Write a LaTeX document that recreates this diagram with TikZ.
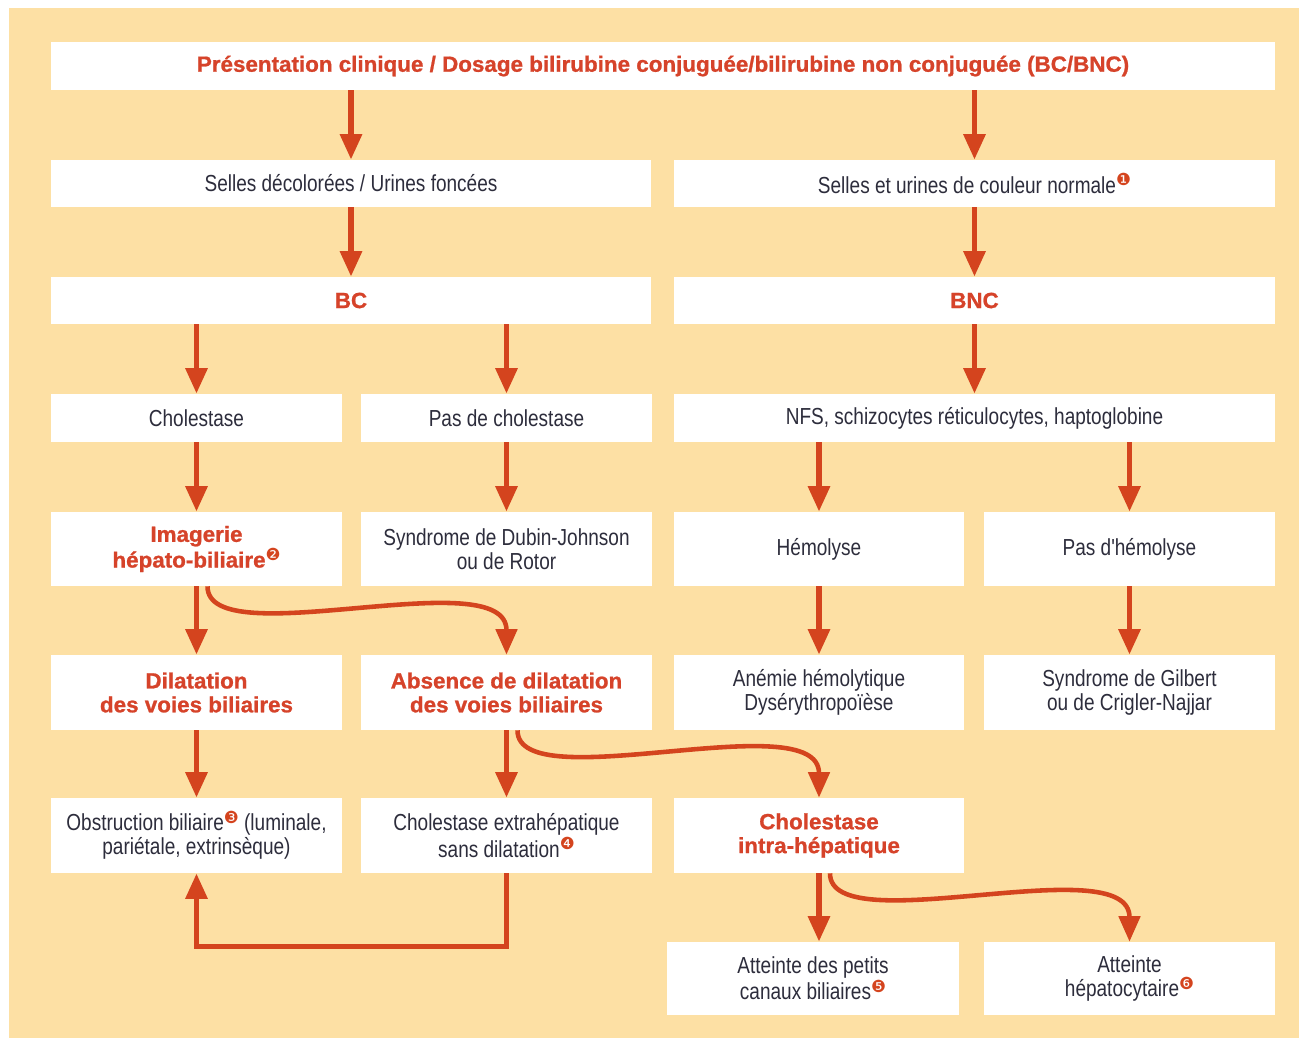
\documentclass[tikz,border=0pt]{standalone}
\usepackage{fontspec}
\usetikzlibrary{arrows.meta}
\newfontfamily\narrowSans[FakeStretch=0.82]{Liberation Sans}
\newfontfamily\heavySans[FakeStretch=1.02, FakeBold=1]{Liberation Sans Bold}
\newfontfamily\symbolSans{DejaVu Sans}
\definecolor{paleOrange}{RGB}{253,224,164}
\definecolor{arrowRed}{RGB}{212,68,30}
\definecolor{titleRed}{RGB}{214,67,42}
\definecolor{bodyGrey}{RGB}{45,45,60}
\newcommand{\note}[1]{\raisebox{0.6ex}{\textcolor{arrowRed}{\fontsize{9.5}{9.5}\symbolSans #1}}}

\begin{document}
\begin{tikzpicture}[x = 0.02cm, y = -0.02cm]
\tikzstyle{plainStyle} = [fill = white, inner sep = 0pt, align = center, text = bodyGrey, font = \narrowSans\fontsize{13.2}{13.6}\selectfont]
\tikzstyle{redStyle} = [plainStyle, text = titleRed, font = \heavySans\fontsize{12.5}{13.6}\selectfont]
\tikzstyle{arrowStyle} = [draw = arrowRed, line width = 3.2pt, -{Triangle[width = 12pt, length = 14.5pt]}]
\tikzstyle{curveStyle} = [arrowStyle, line width = 2.6pt]
\useasboundingbox (0,0) rectangle (1299,1038);
\fill[paleOrange] (9,8) rectangle (1299,1038);
\node[redStyle, minimum width = 24.48cm, minimum height = 0.96cm] (clinique) at (663,66) {Présentation clinique / Dosage bilirubine conjuguée/bilirubine non conjuguée (BC/BNC)};
\node[plainStyle, minimum width = 12cm, minimum height = 0.94cm] (selles) at (351,183.5) {Selles décolorées / Urines foncées};
\node[plainStyle, minimum width = 12.02cm, minimum height = 0.94cm] (normale) at (974.5,183.5) {Selles et urines de couleur normale\note{❶}};
\node[redStyle, minimum width = 12cm, minimum height = 0.94cm] (bc) at (351,300.5) {BC};
\node[redStyle, minimum width = 12.02cm, minimum height = 0.94cm] (bnc) at (974.5,300.5) {BNC};
\node[plainStyle, minimum width = 5.82cm, minimum height = 0.96cm] (cholestase) at (196.5,418) {Cholestase};
\node[plainStyle, minimum width = 5.82cm, minimum height = 0.96cm] (pasChol) at (506.5,418) {Pas de cholestase};
\node[plainStyle, minimum width = 12.02cm, minimum height = 0.96cm] (nfs) at (974.5,418) {NFS, schizocytes réticulocytes, haptoglobine};
\node[redStyle, minimum width = 5.82cm, minimum height = 1.48cm] (imagerie) at (196.5,549) {Imagerie\\hépato-biliaire\note{❷}};
\node[plainStyle, minimum width = 5.82cm, minimum height = 1.48cm] (dubin) at (506.5,549) {Syndrome de Dubin-Johnson\\ou de Rotor};
\node[plainStyle, minimum width = 5.8cm, minimum height = 1.48cm] (hemolyse) at (819,549) {Hémolyse};
\node[plainStyle, minimum width = 5.82cm, minimum height = 1.48cm] (pasHemo) at (1129.5,549) {Pas d'hémolyse};
\node[redStyle, minimum width = 5.82cm, minimum height = 1.5cm] (dilatation) at (196.5,692.5) {Dilatation\\des voies biliaires};
\node[redStyle, minimum width = 5.82cm, minimum height = 1.5cm] (absence) at (506.5,692.5) {Absence de dilatation\\des voies biliaires};
\node[plainStyle, minimum width = 5.8cm, minimum height = 1.5cm] (anemie) at (819,692.5) {Anémie hémolytique\\Dysérythropoïèse};
\node[plainStyle, minimum width = 5.82cm, minimum height = 1.5cm] (gilbert) at (1129.5,692.5) {Syndrome de Gilbert\\ou de Crigler-Najjar};
\node[plainStyle, minimum width = 5.82cm, minimum height = 1.5cm] (obstruction) at (196.5,835.5) {Obstruction biliaire\note{❸} (luminale,\\pariétale, extrinsèque)};
\node[plainStyle, minimum width = 5.82cm, minimum height = 1.5cm] (extra) at (506.5,835.5) {Cholestase extrahépatique\\sans dilatation\note{❹}};
\node[redStyle, minimum width = 5.8cm, minimum height = 1.5cm] (intra) at (819,835.5) {Cholestase\\intra-hépatique};
\node[plainStyle, minimum width = 5.84cm, minimum height = 1.46cm] (petits) at (813,978.5) {Atteinte des petits\\canaux biliaires\note{❺}};
\node[plainStyle, minimum width = 5.82cm, minimum height = 1.46cm] (hepato) at (1129.5,978.5) {Atteinte\\hépatocytaire\note{❻}};
\draw[arrowStyle] (clinique.south -| selles.north) -- (selles.north);
\draw[arrowStyle] (clinique.south -| normale.north) -- (normale.north);
\draw[arrowStyle] (selles.south) -- (bc.north);
\draw[arrowStyle] (normale.south) -- (bnc.north);
\draw[arrowStyle] (bc.south -| cholestase.north) -- (cholestase.north);
\draw[arrowStyle] (bc.south -| pasChol.north) -- (pasChol.north);
\draw[arrowStyle] (bnc.south) -- (nfs.north);
\draw[arrowStyle] (cholestase.south) -- (imagerie.north);
\draw[arrowStyle] (pasChol.south) -- (dubin.north);
\draw[arrowStyle] (nfs.south -| hemolyse.north) -- (hemolyse.north);
\draw[arrowStyle] (nfs.south -| pasHemo.north) -- (pasHemo.north);
\draw[arrowStyle] (imagerie.south) -- (dilatation.north);
\draw[arrowStyle] (hemolyse.south) -- (anemie.north);
\draw[arrowStyle] (pasHemo.south) -- (gilbert.north);
\draw[arrowStyle] (dilatation.south) -- (obstruction.north);
\draw[arrowStyle] (absence.south) -- (extra.north);
\draw[arrowStyle] (intra.south) -- (intra.south |- petits.north);
\draw[arrowStyle] (extra.south) -- ++(0,73) -| (obstruction.south);
\draw[curveStyle] ([xshift = 0.22cm]imagerie.south) .. controls +(0,70) and +(0,-95) .. (absence.north);
\draw[curveStyle] ([xshift = 0.22cm]absence.south) .. controls +(0,70) and +(0,-95) .. (intra.north);
\draw[curveStyle] ([xshift = 0.22cm]intra.south) .. controls +(0,70) and +(0,-95) .. (hepato.north);
\end{tikzpicture}
\end{document}
